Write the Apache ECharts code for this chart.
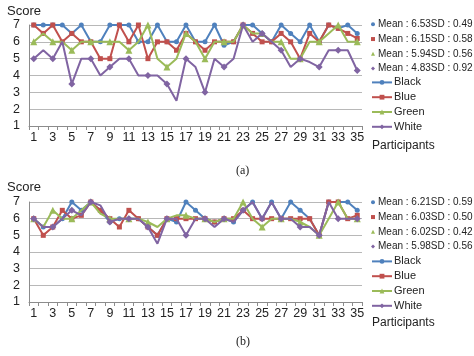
<!DOCTYPE html>
<html>
<head>
<meta charset="utf-8">
<script src="https://cdn.jsdelivr.net/npm/echarts@6/dist/echarts.min.js"></script>
<style>
html,body{margin:0;padding:0;background:#fff;}
#c{width:474px;height:356px;}
</style>
</head>
<body>
<div id="c"></div>
<script>
// ---- data ----
const participants = Array.from({length: 35}, (_, i) => String(i + 1));
const yTicks = [1, 2, 3, 4, 5, 6, 7];
const seriesNames = ['Black', 'Blue', 'Green', 'White'];

// (a)
const aBlack = [7,7,7,7,6.5,7,6,6,7,7,7,6,6,7,6,6,7,6,6,7,5.8,6,7,7,6.5,6,7,6.5,6,7,6,7,6.8,7,6.5];
const aBlue  = [7,6.5,7,6,6.5,6,6,5,5,7,6,7,5,6,6,5.5,6.5,6,5.5,6,6,6,7,6.5,6,6,6.5,6,5,6.5,6,7,6.8,6.5,6.2];
const aGreen = [6,6.5,6,6,5.5,6,6,6,6,6,5.5,6,7,5,4.5,5,6.5,6,5,6,6,6,7,6.5,6.5,6,6,5,5,6,6,6.5,7,6,6];
const aWhite = [5,5.5,5,6,3.5,5,5,4,4.5,5,5,4,4,4,3.5,2.5,5,4.5,3,5,4.5,5,7,6,6.5,6,5.5,4.5,5,4.8,4.5,5.5,5.5,5.5,4.3];
const aStats = ['Mean : 6.53SD : 0.49', 'Mean : 6.15SD : 0.58', 'Mean : 5.94SD : 0.56', 'Mean : 4.83SD : 0.92'];

// (b)
const bBlack = [6,5.5,5.5,6,7,6.5,7,6.5,5.8,6,6,6,5.5,5,6,5.8,7,6.5,6,5.8,6,5.8,6.5,7,6,7,6,7,6.5,6,5,7,7,7,6.5];
const bBlue  = [6,5,5.5,6.5,6,6.2,7,6.5,6,5.5,6.5,6,5.5,5,6,6,6,6,6,5.8,6,6,6.5,6,6,6,6,6,6,6,5,7,7,6,6.2];
const bGreen = [6,5.5,6.5,6,6,6.5,7,6.3,6,6,6,6,5.8,5.5,6,6.2,6.2,6,6,5.8,6,6,7,6,5.5,6,6,6,5.8,5.5,5,6,7,6,6];
const bWhite = [6,5.5,5.5,6,6.5,6.2,7,6.8,5.8,6,6,6,5.5,4.5,6,6,5,6,6,5.5,6,5.8,6.5,7,6,7,6,6,5.5,5.5,5,7,6,6,6];
const bStats = ['Mean : 6.21SD : 0.59', 'Mean : 6.03SD : 0.50', 'Mean : 6.02SD : 0.42', 'Mean : 5.98SD : 0.56'];

// ---- styling ----
const colors = ['#4F81BD', '#C0504D', '#9BBB59', '#8064A2'];
const symbols = ['circle', 'rect', 'triangle', 'diamond'];
const symSizes = [5, 5, 7, 7];
const FONT = 'Liberation Sans, Arial, sans-serif';

const chart = echarts.init(document.getElementById('c'), null, {renderer: 'canvas'});

function mkX(gi) {
  return {
    type: 'category', gridIndex: gi, data: participants, boundaryGap: true,
    axisLine: {show: true, lineStyle: {color: '#8c8c8c', width: 1}},
    axisTick: {show: true, interval: 0, length: 4, lineStyle: {color: '#8c8c8c'}},
    axisLabel: {interval: 1, fontSize: 12.5, color: '#222', margin: 5, fontFamily: FONT},
    splitLine: {show: false}
  };
}
function mkY(gi) {
  return {
    type: 'value', gridIndex: gi, min: yTicks[0], max: yTicks[yTicks.length - 1], interval: 1,
    axisLine: {show: true, lineStyle: {color: '#8c8c8c', width: 1}},
    axisTick: {show: false},
    axisLabel: {fontSize: 12.5, color: '#222', margin: 9, fontFamily: FONT},
    splitLine: {show: true, lineStyle: {color: '#b8b8b8', width: 1}}
  };
}
function mkSeries(gi, arrs, stats) {
  const out = [];
  arrs.forEach((d, i) => {
    out.push({
      type: 'line', name: seriesNames[i], xAxisIndex: gi, yAxisIndex: gi, data: d,
      symbol: symbols[i], symbolSize: symSizes[i], showSymbol: true,
      lineStyle: {width: 2, color: colors[i]}, itemStyle: {color: colors[i]},
      emphasis: {disabled: true}, animation: false, z: 2 + i
    });
  });
  stats.forEach((s, i) => {
    out.push({type: 'line', name: s, xAxisIndex: gi, yAxisIndex: gi, data: [],
      symbol: symbols[i], itemStyle: {color: colors[i]}, lineStyle: {color: colors[i]}, animation: false});
  });
  return out;
}
function mkStatLegend(top, stats) {
  return {
    orient: 'vertical', left: 366, top: top, itemWidth: 4, itemHeight: 4, itemGap: 0,
    selectedMode: false,
    textStyle: {fontSize: 10, color: '#222', fontFamily: FONT, lineHeight: 14.7, padding: [0, 0, 0, -2]},
    data: stats.map((s, i) => ({name: s, icon: symbols[i], itemStyle: {color: colors[i]}}))
  };
}
function mkSerLegend(top) {
  return {
    orient: 'vertical', left: 366, top: top, itemWidth: 20, itemHeight: 6, itemGap: 0,
    selectedMode: false,
    textStyle: {fontSize: 11, color: '#222', fontFamily: FONT, lineHeight: 14.8, padding: [0, 0, 0, -3]},
    data: seriesNames
  };
}

const option = {
  animation: false,
  grid: [
    {left: 29, top: 25, width: 333, height: 101, containLabel: false},
    {left: 29, top: 202, width: 333, height: 100, containLabel: false}
  ],
  xAxis: [mkX(0), mkX(1)],
  yAxis: [mkY(0), mkY(1)],
  legend: [
    mkStatLegend(12, aStats),
    mkSerLegend(70),
    mkStatLegend(190, bStats),
    mkSerLegend(249)
  ],
  series: mkSeries(0, [aBlack, aBlue, aGreen, aWhite], aStats)
    .concat(mkSeries(1, [bBlack, bBlue, bGreen, bWhite], bStats)),
  graphic: [
    {type: 'text', left: 7, top: 5, style: {text: 'Score', fontSize: 13, fill: '#222', fontFamily: FONT}},
    {type: 'text', left: 7, top: 181, style: {text: 'Score', fontSize: 13, fill: '#222', fontFamily: FONT}},
    {type: 'text', left: 372, top: 140, style: {text: 'Participants', fontSize: 12, fill: '#222', fontFamily: FONT}},
    {type: 'text', left: 372, top: 317, style: {text: 'Participants', fontSize: 12, fill: '#222', fontFamily: FONT}},
    {type: 'text', left: 236, top: 165, style: {text: '(a)', fontSize: 12, fill: '#222', fontFamily: 'Liberation Serif, serif'}},
    {type: 'text', left: 236, top: 336, style: {text: '(b)', fontSize: 12, fill: '#222', fontFamily: 'Liberation Serif, serif'}}
  ]
};
chart.setOption(option);
</script>
</body>
</html>
